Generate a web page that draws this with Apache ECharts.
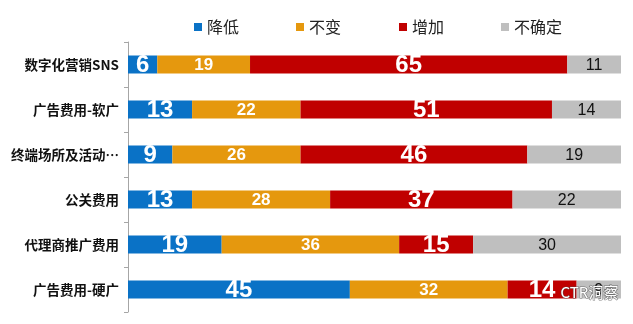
<!DOCTYPE html>
<html><head><meta charset="utf-8">
<script src="https://cdn.jsdelivr.net/npm/echarts@6/dist/echarts.min.js"></script>
<style>html,body{margin:0;padding:0;background:#fff;}#c{width:633px;height:324px;}</style>
</head><body><div id="c"></div>
<script>
var categories = ['数字化营销SNS','广告费用-软广','终端场所及活动…','公关费用','代理商推广费用','广告费用-硬广'];
var seriesNames = ['降低','不变','增加','不确定'];
var decrease = [6,13,9,13,19,45];
var unchanged = [19,22,26,28,36,32];
var increase = [65,51,46,37,15,14];
var uncertain = [11,14,19,22,30,9];
var colors = ['#0A72C6','#E5980E','#C00000','#BFBFBF'];

var raw = [decrease, unchanged, increase, uncertain];
var sums = categories.map(function(_, i){ return raw.reduce(function(s, a){ return s + a[i]; }, 0); });
var labelStyles = [
  {fontSize: 24, fontWeight: 'bold', color: '#fff'},
  {fontSize: 17, fontWeight: 'bold', color: '#fff'},
  {fontSize: 24, fontWeight: 'bold', color: '#fff'},
  {fontSize: 16, fontWeight: 'normal', color: '#111'}
];
var series = raw.map(function(arr, k){
  return {
    name: seriesNames[k], type: 'bar', stack: 'all', barWidth: 18,
    itemStyle: {color: colors[k]},
    data: arr.map(function(v, i){ return {value: v / sums[i] * 100, raw: v}; }),
    label: Object.assign({show: true, position: 'inside', offset: [0, 1], fontFamily: 'Liberation Sans, Arial, sans-serif',
      formatter: function(p){ return p.data.raw; }}, labelStyles[k])
  };
});

var legendLeft = [189, 291, 394, 496];
var legends = seriesNames.map(function(n, k){
  return {
    top: 14, left: legendLeft[k], itemWidth: 8, itemHeight: 8, itemTextGap: 2, icon: 'rect',
    textStyle: {fontSize: 16, color: '#222', fontFamily: 'Noto Sans CJK SC, sans-serif'},
    data: [n]
  };
});

var chart = echarts.init(document.getElementById('c'));
chart.setOption({
  animation: false,
  legend: legends,
  grid: {left: 128, right: 12, top: 42, bottom: 12},
  xAxis: {type: 'value', min: 0, max: 100, show: false},
  yAxis: {
    type: 'category', inverse: true, data: categories,
    axisLine: {show: true, lineStyle: {color: '#a6a6a6', width: 1}},
    axisTick: {show: true, length: 4, lineStyle: {color: '#a6a6a6'}},
    axisLabel: {fontSize: 13.5, fontWeight: 'bold', color: '#111', margin: 9,
      fontFamily: 'Noto Sans CJK SC, sans-serif'}
  },
  graphic: [{
    type: 'text', left: 560, top: 284, silent: true, z: 100,
    style: {text: 'CTR洞察', fontSize: 15, fill: '#ffffff', stroke: 'rgba(80,80,80,0.7)', lineWidth: 1.2,
      fontFamily: 'Noto Sans CJK SC, sans-serif'}
  }],
  series: series
});
</script></body></html>
